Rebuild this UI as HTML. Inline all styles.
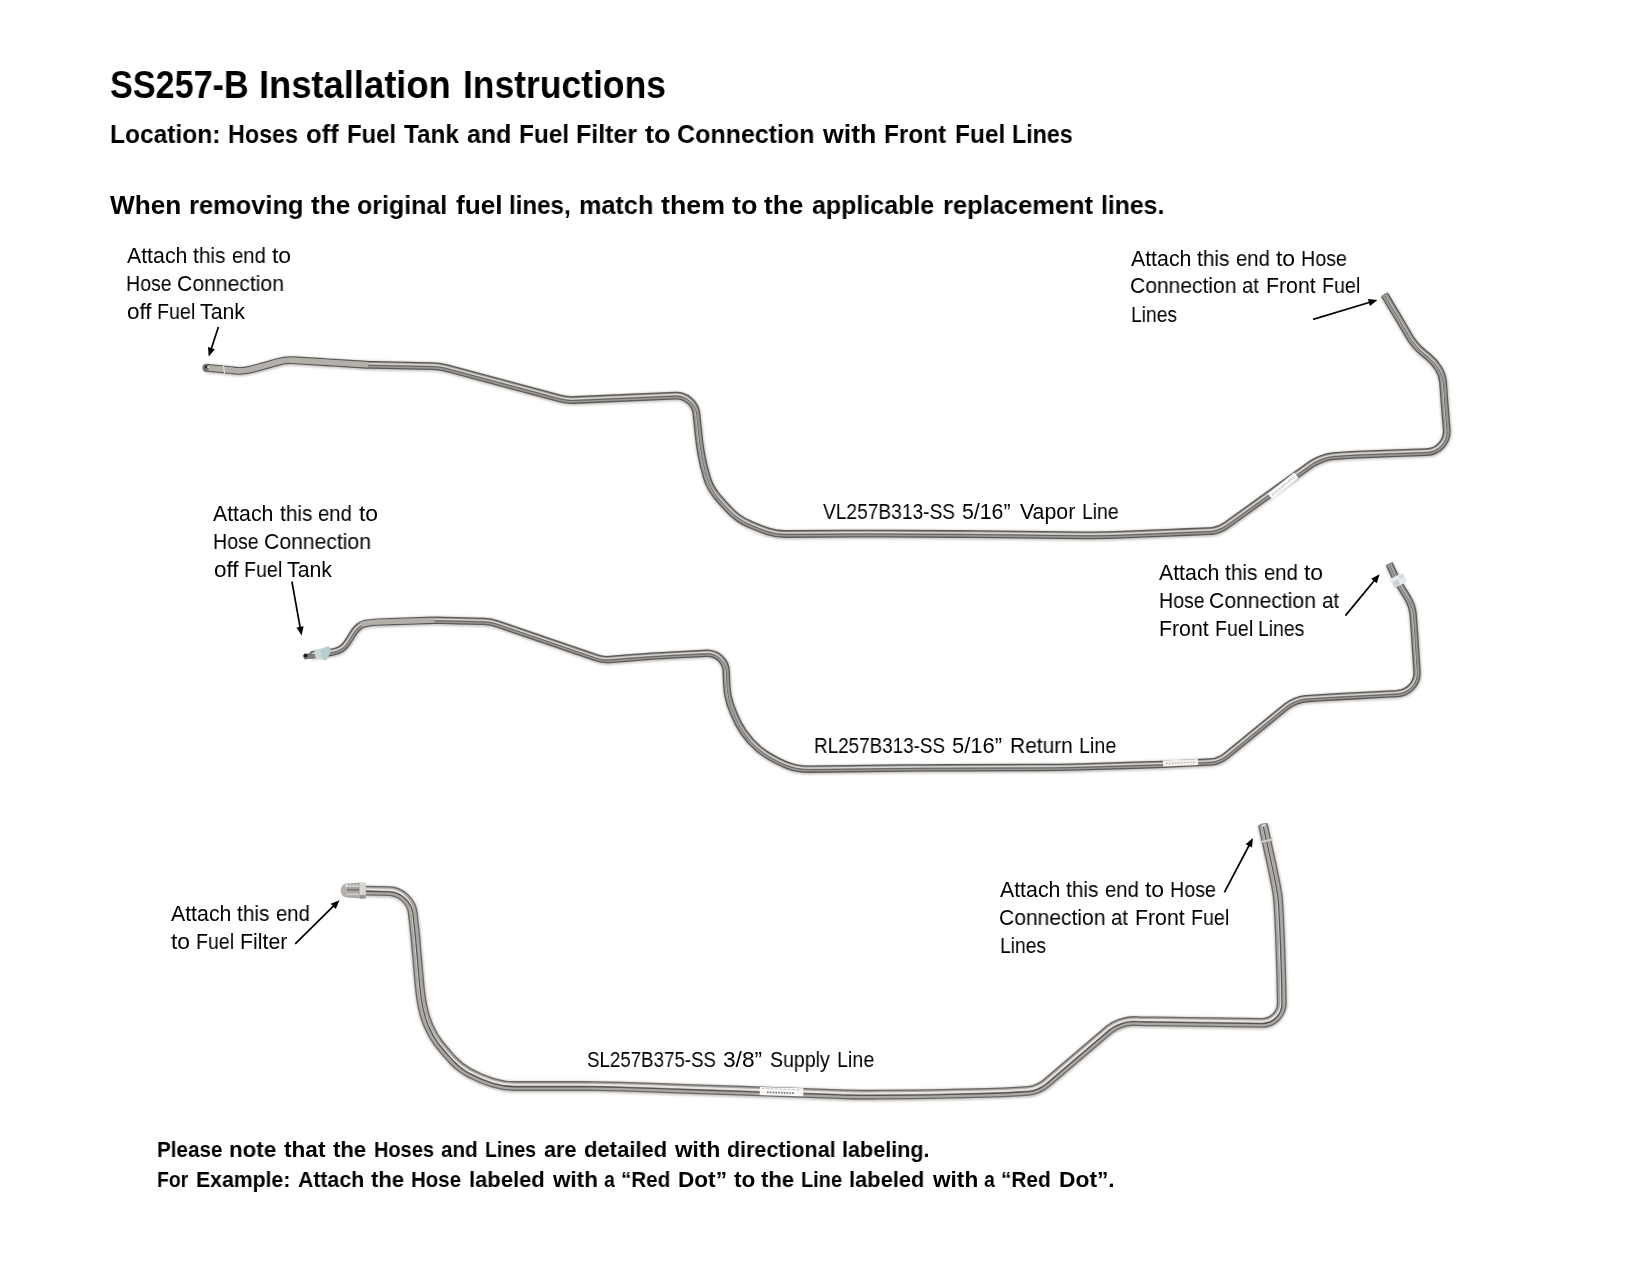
<!DOCTYPE html><html><head><meta charset="utf-8"><title>SS257-B Installation Instructions</title><style>html,body{margin:0;padding:0;background:#fff}
body{width:1650px;height:1275px;position:relative;overflow:hidden;font-family:"Liberation Sans", sans-serif;color:#000}
.t{position:absolute;white-space:nowrap;line-height:1;transform-origin:0 0;margin:0;padding:0;will-change:transform}
.b{font-weight:bold}</style></head><body><svg id="art" width="1650" height="1275" viewBox="0 0 1650 1275" style="position:absolute;left:0;top:0"><defs><filter id="soft" x="-5%" y="-5%" width="110%" height="110%"><feGaussianBlur stdDeviation="0.4"/></filter><filter id="blur" x="-5%" y="-5%" width="110%" height="110%"><feGaussianBlur stdDeviation="0.9"/></filter></defs><g filter="url(#soft)"><path d="M205.2,367.7 L218.0,368.8 C221.3,369.1 226.7,369.6 230.0,370.0 L235.3,370.6 C239.5,371.0 246.4,370.5 250.5,369.5 L250.5,369.5 C254.6,368.5 261.3,366.6 265.4,365.5 L278.8,361.7 C282.5,360.7 288.6,360.0 292.5,360.2 L323.0,362.0 C325.8,362.2 330.2,362.4 333.0,362.6 L363.0,364.5 C365.8,364.7 370.2,364.8 373.0,364.9 L432.5,366.1 C436.4,366.1 442.5,367.0 446.3,368.0 L560.2,398.5 C564.0,399.5 570.1,400.2 574.0,400.0 L675.5,395.6 C686.0,395.2 695.4,403.3 696.4,413.7 L698.6,434.6 C699.1,440.0 700.4,448.9 701.3,454.3 L701.6,455.6 C702.5,461.0 704.6,469.7 706.2,475.0 L707.1,478.1 C708.7,483.4 712.9,491.2 716.4,495.4 L717.1,496.4 C720.6,500.6 726.7,507.3 730.6,511.2 L731.3,511.9 C735.2,515.8 742.5,520.9 747.5,523.1 L751.1,524.8 C755.6,526.8 763.0,529.7 767.6,531.2 L767.6,531.2 C772.2,532.7 780.0,534.0 784.9,534.0 L849.0,533.6 C860.0,533.5 878.0,533.5 889.0,533.6 L958.0,534.0 C969.0,534.1 987.0,534.2 998.0,534.3 L1083.6,535.3 C1094.6,535.4 1112.6,535.1 1123.6,534.6 L1147.0,533.7 C1158.0,533.2 1176.0,532.5 1187.0,532.0 L1209.5,531.1 C1214.5,531.0 1221.8,528.4 1225.8,525.6 L1311.3,464.2 C1316.6,460.3 1326.4,456.8 1333.0,456.2 L1340.8,455.6 C1345.2,455.2 1352.4,454.8 1356.8,454.6 L1377.6,453.8 C1383.1,453.6 1392.1,453.2 1397.6,453.1 L1426.5,452.1 C1438.6,451.6 1447.7,441.4 1446.7,429.4 L1445.1,410.0 C1444.7,404.5 1444.0,395.5 1443.6,390.0 L1443.1,382.6 C1442.8,378.4 1440.8,372.1 1438.5,368.5 L1438.5,368.5 C1436.3,364.9 1431.8,359.8 1428.6,357.1 L1423.1,352.6 C1418.4,348.7 1412.0,341.2 1408.9,335.9 L1408.3,334.8 C1405.6,330.1 1401.0,322.3 1398.2,317.6 L1384.4,294.6" fill="none" stroke="#c4c2c0" stroke-width="9.6" stroke-linejoin="round" transform="translate(0.2,0.7)" filter="url(#blur)"/><path d="M205.2,367.7 L218.0,368.8 C221.3,369.1 226.7,369.6 230.0,370.0 L235.3,370.6 C239.5,371.0 246.4,370.5 250.5,369.5 L250.5,369.5 C254.6,368.5 261.3,366.6 265.4,365.5 L278.8,361.7 C282.5,360.7 288.6,360.0 292.5,360.2 L323.0,362.0 C325.8,362.2 330.2,362.4 333.0,362.6 L363.0,364.5 C365.8,364.7 370.2,364.8 373.0,364.9 L432.5,366.1 C436.4,366.1 442.5,367.0 446.3,368.0 L560.2,398.5 C564.0,399.5 570.1,400.2 574.0,400.0 L675.5,395.6 C686.0,395.2 695.4,403.3 696.4,413.7 L698.6,434.6 C699.1,440.0 700.4,448.9 701.3,454.3 L701.6,455.6 C702.5,461.0 704.6,469.7 706.2,475.0 L707.1,478.1 C708.7,483.4 712.9,491.2 716.4,495.4 L717.1,496.4 C720.6,500.6 726.7,507.3 730.6,511.2 L731.3,511.9 C735.2,515.8 742.5,520.9 747.5,523.1 L751.1,524.8 C755.6,526.8 763.0,529.7 767.6,531.2 L767.6,531.2 C772.2,532.7 780.0,534.0 784.9,534.0 L849.0,533.6 C860.0,533.5 878.0,533.5 889.0,533.6 L958.0,534.0 C969.0,534.1 987.0,534.2 998.0,534.3 L1083.6,535.3 C1094.6,535.4 1112.6,535.1 1123.6,534.6 L1147.0,533.7 C1158.0,533.2 1176.0,532.5 1187.0,532.0 L1209.5,531.1 C1214.5,531.0 1221.8,528.4 1225.8,525.6 L1311.3,464.2 C1316.6,460.3 1326.4,456.8 1333.0,456.2 L1340.8,455.6 C1345.2,455.2 1352.4,454.8 1356.8,454.6 L1377.6,453.8 C1383.1,453.6 1392.1,453.2 1397.6,453.1 L1426.5,452.1 C1438.6,451.6 1447.7,441.4 1446.7,429.4 L1445.1,410.0 C1444.7,404.5 1444.0,395.5 1443.6,390.0 L1443.1,382.6 C1442.8,378.4 1440.8,372.1 1438.5,368.5 L1438.5,368.5 C1436.3,364.9 1431.8,359.8 1428.6,357.1 L1423.1,352.6 C1418.4,348.7 1412.0,341.2 1408.9,335.9 L1408.3,334.8 C1405.6,330.1 1401.0,322.3 1398.2,317.6 L1384.4,294.6" fill="none" stroke="#5d5a57" stroke-width="7.8" stroke-linecap="butt" stroke-linejoin="round"/><path d="M205.2,367.7 L218.0,368.8 C221.3,369.1 226.7,369.6 230.0,370.0 L235.3,370.6 C239.5,371.0 246.4,370.5 250.5,369.5 L250.5,369.5 C254.6,368.5 261.3,366.6 265.4,365.5 L278.8,361.7 C282.5,360.7 288.6,360.0 292.5,360.2 L323.0,362.0 C325.8,362.2 330.2,362.4 333.0,362.6 L363.0,364.5 C365.8,364.7 370.2,364.8 373.0,364.9 L432.5,366.1 C436.4,366.1 442.5,367.0 446.3,368.0 L560.2,398.5 C564.0,399.5 570.1,400.2 574.0,400.0 L675.5,395.6 C686.0,395.2 695.4,403.3 696.4,413.7 L698.6,434.6 C699.1,440.0 700.4,448.9 701.3,454.3 L701.6,455.6 C702.5,461.0 704.6,469.7 706.2,475.0 L707.1,478.1 C708.7,483.4 712.9,491.2 716.4,495.4 L717.1,496.4 C720.6,500.6 726.7,507.3 730.6,511.2 L731.3,511.9 C735.2,515.8 742.5,520.9 747.5,523.1 L751.1,524.8 C755.6,526.8 763.0,529.7 767.6,531.2 L767.6,531.2 C772.2,532.7 780.0,534.0 784.9,534.0 L849.0,533.6 C860.0,533.5 878.0,533.5 889.0,533.6 L958.0,534.0 C969.0,534.1 987.0,534.2 998.0,534.3 L1083.6,535.3 C1094.6,535.4 1112.6,535.1 1123.6,534.6 L1147.0,533.7 C1158.0,533.2 1176.0,532.5 1187.0,532.0 L1209.5,531.1 C1214.5,531.0 1221.8,528.4 1225.8,525.6 L1311.3,464.2 C1316.6,460.3 1326.4,456.8 1333.0,456.2 L1340.8,455.6 C1345.2,455.2 1352.4,454.8 1356.8,454.6 L1377.6,453.8 C1383.1,453.6 1392.1,453.2 1397.6,453.1 L1426.5,452.1 C1438.6,451.6 1447.7,441.4 1446.7,429.4 L1445.1,410.0 C1444.7,404.5 1444.0,395.5 1443.6,390.0 L1443.1,382.6 C1442.8,378.4 1440.8,372.1 1438.5,368.5 L1438.5,368.5 C1436.3,364.9 1431.8,359.8 1428.6,357.1 L1423.1,352.6 C1418.4,348.7 1412.0,341.2 1408.9,335.9 L1408.3,334.8 C1405.6,330.1 1401.0,322.3 1398.2,317.6 L1384.4,294.6" fill="none" stroke="#9b9895" stroke-width="5.20" stroke-linejoin="round"/><path d="M205.2,367.7 L218.0,368.8 C221.3,369.1 226.7,369.6 230.0,370.0 L235.3,370.6 C239.5,371.0 246.4,370.5 250.5,369.5 L250.5,369.5 C254.6,368.5 261.3,366.6 265.4,365.5 L278.8,361.7 C282.5,360.7 288.6,360.0 292.5,360.2 L323.0,362.0 C325.8,362.2 330.2,362.4 333.0,362.6 L363.0,364.5 C365.8,364.7 370.2,364.8 373.0,364.9 L432.5,366.1 C436.4,366.1 442.5,367.0 446.3,368.0 L560.2,398.5 C564.0,399.5 570.1,400.2 574.0,400.0 L675.5,395.6 C686.0,395.2 695.4,403.3 696.4,413.7 L698.6,434.6 C699.1,440.0 700.4,448.9 701.3,454.3 L701.6,455.6 C702.5,461.0 704.6,469.7 706.2,475.0 L707.1,478.1 C708.7,483.4 712.9,491.2 716.4,495.4 L717.1,496.4 C720.6,500.6 726.7,507.3 730.6,511.2 L731.3,511.9 C735.2,515.8 742.5,520.9 747.5,523.1 L751.1,524.8 C755.6,526.8 763.0,529.7 767.6,531.2 L767.6,531.2 C772.2,532.7 780.0,534.0 784.9,534.0 L849.0,533.6 C860.0,533.5 878.0,533.5 889.0,533.6 L958.0,534.0 C969.0,534.1 987.0,534.2 998.0,534.3 L1083.6,535.3 C1094.6,535.4 1112.6,535.1 1123.6,534.6 L1147.0,533.7 C1158.0,533.2 1176.0,532.5 1187.0,532.0 L1209.5,531.1 C1214.5,531.0 1221.8,528.4 1225.8,525.6 L1311.3,464.2 C1316.6,460.3 1326.4,456.8 1333.0,456.2 L1340.8,455.6 C1345.2,455.2 1352.4,454.8 1356.8,454.6 L1377.6,453.8 C1383.1,453.6 1392.1,453.2 1397.6,453.1 L1426.5,452.1 C1438.6,451.6 1447.7,441.4 1446.7,429.4 L1445.1,410.0 C1444.7,404.5 1444.0,395.5 1443.6,390.0 L1443.1,382.6 C1442.8,378.4 1440.8,372.1 1438.5,368.5 L1438.5,368.5 C1436.3,364.9 1431.8,359.8 1428.6,357.1 L1423.1,352.6 C1418.4,348.7 1412.0,341.2 1408.9,335.9 L1408.3,334.8 C1405.6,330.1 1401.0,322.3 1398.2,317.6 L1384.4,294.6" fill="none" stroke="#d6d4d1" stroke-width="1.40" stroke-linejoin="round" transform="translate(-0.3,-1.09)"/><path d="M205.2,367.7 L218.0,368.8 C221.3,369.1 226.7,369.6 230.0,370.0 L235.3,370.6 C239.5,371.0 246.4,370.5 250.5,369.5 L250.5,369.5 C254.6,368.5 261.3,366.6 265.4,365.5 L278.8,361.7 C282.5,360.7 288.6,360.0 292.5,360.2 L323.0,362.0 C325.8,362.2 330.2,362.4 333.0,362.6 L363.0,364.5 C365.8,364.7 370.2,364.8 373.0,364.9 L432.5,366.1 C436.4,366.1 442.5,367.0 446.3,368.0 L560.2,398.5 C564.0,399.5 570.1,400.2 574.0,400.0 L675.5,395.6 C686.0,395.2 695.4,403.3 696.4,413.7 L698.6,434.6 C699.1,440.0 700.4,448.9 701.3,454.3 L701.6,455.6 C702.5,461.0 704.6,469.7 706.2,475.0 L707.1,478.1 C708.7,483.4 712.9,491.2 716.4,495.4 L717.1,496.4 C720.6,500.6 726.7,507.3 730.6,511.2 L731.3,511.9 C735.2,515.8 742.5,520.9 747.5,523.1 L751.1,524.8 C755.6,526.8 763.0,529.7 767.6,531.2 L767.6,531.2 C772.2,532.7 780.0,534.0 784.9,534.0 L849.0,533.6 C860.0,533.5 878.0,533.5 889.0,533.6 L958.0,534.0 C969.0,534.1 987.0,534.2 998.0,534.3 L1083.6,535.3 C1094.6,535.4 1112.6,535.1 1123.6,534.6 L1147.0,533.7 C1158.0,533.2 1176.0,532.5 1187.0,532.0 L1209.5,531.1 C1214.5,531.0 1221.8,528.4 1225.8,525.6 L1311.3,464.2 C1316.6,460.3 1326.4,456.8 1333.0,456.2 L1340.8,455.6 C1345.2,455.2 1352.4,454.8 1356.8,454.6 L1377.6,453.8 C1383.1,453.6 1392.1,453.2 1397.6,453.1 L1426.5,452.1 C1438.6,451.6 1447.7,441.4 1446.7,429.4 L1445.1,410.0 C1444.7,404.5 1444.0,395.5 1443.6,390.0 L1443.1,382.6 C1442.8,378.4 1440.8,372.1 1438.5,368.5 L1438.5,368.5 C1436.3,364.9 1431.8,359.8 1428.6,357.1 L1423.1,352.6 C1418.4,348.7 1412.0,341.2 1408.9,335.9 L1408.3,334.8 C1405.6,330.1 1401.0,322.3 1398.2,317.6 L1384.4,294.6" fill="none" stroke="#605d5b" stroke-width="0.94" stroke-linejoin="round" transform="translate(0.2,0.55)"/><path d="M311.0,654.8 L330.0,652.5 C332.2,652.2 335.7,651.4 337.7,650.6 L338.1,650.5 C340.0,649.8 342.6,648.0 344.0,646.6 L344.0,646.6 C345.4,645.2 347.4,642.6 348.4,640.9 L353.1,633.4 C354.2,631.5 356.5,628.7 358.1,627.2 L358.1,627.2 C359.7,625.7 362.8,624.1 365.0,623.6 L366.5,623.3 C369.5,622.8 374.5,622.2 377.6,622.1 L426.5,620.5 C430.9,620.3 438.1,620.3 442.5,620.4 L484.0,621.4 C487.9,621.5 494.0,622.6 497.6,623.9 L596.4,657.8 C600.0,659.1 606.1,659.8 610.0,659.5 L634.6,657.5 C645.5,656.6 663.5,655.5 674.5,654.9 L706.6,653.3 C717.1,652.8 725.9,660.9 726.2,671.4 L726.7,684.5 C726.9,690.0 728.4,698.8 730.1,704.0 L730.1,704.0 C731.9,709.2 735.3,717.5 737.8,722.4 L738.0,723.0 C740.7,728.1 746.0,735.9 749.9,740.2 L751.6,742.1 C755.4,746.3 762.4,752.2 767.2,755.2 L767.2,755.2 C772.0,758.2 780.2,762.4 785.4,764.6 L786.5,765.0 C792.3,767.4 802.1,769.2 808.4,769.2 L905.0,768.0 C916.0,767.9 934.0,767.8 945.0,767.8 L1040.0,767.5 C1051.0,767.5 1069.0,767.2 1080.0,766.9 L1143.0,765.0 C1154.0,764.7 1172.0,764.0 1183.0,763.4 L1210.0,762.0 C1215.0,761.8 1222.1,759.0 1226.0,755.9 L1286.5,706.4 C1291.2,702.5 1299.9,699.1 1306.0,698.7 L1318.5,697.9 C1329.2,697.2 1346.8,696.2 1357.5,695.7 L1357.5,695.7 C1368.2,695.1 1385.8,694.2 1396.5,693.6 L1397.7,693.5 C1409.0,692.8 1417.7,683.0 1417.0,671.7 L1415.6,650.0 C1415.3,644.5 1414.7,635.5 1414.3,630.0 L1413.1,614.4 C1412.8,610.3 1411.0,604.1 1409.0,600.5 L1408.7,599.9 C1407.0,596.6 1403.8,591.4 1401.7,588.2 L1401.7,588.2 C1399.6,585.1 1396.6,579.8 1395.0,576.4 L1389.3,564.0" fill="none" stroke="#c4c2c0" stroke-width="9.200000000000001" stroke-linejoin="round" transform="translate(0.2,0.7)" filter="url(#blur)"/><path d="M311.0,654.8 L330.0,652.5 C332.2,652.2 335.7,651.4 337.7,650.6 L338.1,650.5 C340.0,649.8 342.6,648.0 344.0,646.6 L344.0,646.6 C345.4,645.2 347.4,642.6 348.4,640.9 L353.1,633.4 C354.2,631.5 356.5,628.7 358.1,627.2 L358.1,627.2 C359.7,625.7 362.8,624.1 365.0,623.6 L366.5,623.3 C369.5,622.8 374.5,622.2 377.6,622.1 L426.5,620.5 C430.9,620.3 438.1,620.3 442.5,620.4 L484.0,621.4 C487.9,621.5 494.0,622.6 497.6,623.9 L596.4,657.8 C600.0,659.1 606.1,659.8 610.0,659.5 L634.6,657.5 C645.5,656.6 663.5,655.5 674.5,654.9 L706.6,653.3 C717.1,652.8 725.9,660.9 726.2,671.4 L726.7,684.5 C726.9,690.0 728.4,698.8 730.1,704.0 L730.1,704.0 C731.9,709.2 735.3,717.5 737.8,722.4 L738.0,723.0 C740.7,728.1 746.0,735.9 749.9,740.2 L751.6,742.1 C755.4,746.3 762.4,752.2 767.2,755.2 L767.2,755.2 C772.0,758.2 780.2,762.4 785.4,764.6 L786.5,765.0 C792.3,767.4 802.1,769.2 808.4,769.2 L905.0,768.0 C916.0,767.9 934.0,767.8 945.0,767.8 L1040.0,767.5 C1051.0,767.5 1069.0,767.2 1080.0,766.9 L1143.0,765.0 C1154.0,764.7 1172.0,764.0 1183.0,763.4 L1210.0,762.0 C1215.0,761.8 1222.1,759.0 1226.0,755.9 L1286.5,706.4 C1291.2,702.5 1299.9,699.1 1306.0,698.7 L1318.5,697.9 C1329.2,697.2 1346.8,696.2 1357.5,695.7 L1357.5,695.7 C1368.2,695.1 1385.8,694.2 1396.5,693.6 L1397.7,693.5 C1409.0,692.8 1417.7,683.0 1417.0,671.7 L1415.6,650.0 C1415.3,644.5 1414.7,635.5 1414.3,630.0 L1413.1,614.4 C1412.8,610.3 1411.0,604.1 1409.0,600.5 L1408.7,599.9 C1407.0,596.6 1403.8,591.4 1401.7,588.2 L1401.7,588.2 C1399.6,585.1 1396.6,579.8 1395.0,576.4 L1389.3,564.0" fill="none" stroke="#5d5a57" stroke-width="7.4" stroke-linecap="butt" stroke-linejoin="round"/><path d="M311.0,654.8 L330.0,652.5 C332.2,652.2 335.7,651.4 337.7,650.6 L338.1,650.5 C340.0,649.8 342.6,648.0 344.0,646.6 L344.0,646.6 C345.4,645.2 347.4,642.6 348.4,640.9 L353.1,633.4 C354.2,631.5 356.5,628.7 358.1,627.2 L358.1,627.2 C359.7,625.7 362.8,624.1 365.0,623.6 L366.5,623.3 C369.5,622.8 374.5,622.2 377.6,622.1 L426.5,620.5 C430.9,620.3 438.1,620.3 442.5,620.4 L484.0,621.4 C487.9,621.5 494.0,622.6 497.6,623.9 L596.4,657.8 C600.0,659.1 606.1,659.8 610.0,659.5 L634.6,657.5 C645.5,656.6 663.5,655.5 674.5,654.9 L706.6,653.3 C717.1,652.8 725.9,660.9 726.2,671.4 L726.7,684.5 C726.9,690.0 728.4,698.8 730.1,704.0 L730.1,704.0 C731.9,709.2 735.3,717.5 737.8,722.4 L738.0,723.0 C740.7,728.1 746.0,735.9 749.9,740.2 L751.6,742.1 C755.4,746.3 762.4,752.2 767.2,755.2 L767.2,755.2 C772.0,758.2 780.2,762.4 785.4,764.6 L786.5,765.0 C792.3,767.4 802.1,769.2 808.4,769.2 L905.0,768.0 C916.0,767.9 934.0,767.8 945.0,767.8 L1040.0,767.5 C1051.0,767.5 1069.0,767.2 1080.0,766.9 L1143.0,765.0 C1154.0,764.7 1172.0,764.0 1183.0,763.4 L1210.0,762.0 C1215.0,761.8 1222.1,759.0 1226.0,755.9 L1286.5,706.4 C1291.2,702.5 1299.9,699.1 1306.0,698.7 L1318.5,697.9 C1329.2,697.2 1346.8,696.2 1357.5,695.7 L1357.5,695.7 C1368.2,695.1 1385.8,694.2 1396.5,693.6 L1397.7,693.5 C1409.0,692.8 1417.7,683.0 1417.0,671.7 L1415.6,650.0 C1415.3,644.5 1414.7,635.5 1414.3,630.0 L1413.1,614.4 C1412.8,610.3 1411.0,604.1 1409.0,600.5 L1408.7,599.9 C1407.0,596.6 1403.8,591.4 1401.7,588.2 L1401.7,588.2 C1399.6,585.1 1396.6,579.8 1395.0,576.4 L1389.3,564.0" fill="none" stroke="#9b9895" stroke-width="4.80" stroke-linejoin="round"/><path d="M311.0,654.8 L330.0,652.5 C332.2,652.2 335.7,651.4 337.7,650.6 L338.1,650.5 C340.0,649.8 342.6,648.0 344.0,646.6 L344.0,646.6 C345.4,645.2 347.4,642.6 348.4,640.9 L353.1,633.4 C354.2,631.5 356.5,628.7 358.1,627.2 L358.1,627.2 C359.7,625.7 362.8,624.1 365.0,623.6 L366.5,623.3 C369.5,622.8 374.5,622.2 377.6,622.1 L426.5,620.5 C430.9,620.3 438.1,620.3 442.5,620.4 L484.0,621.4 C487.9,621.5 494.0,622.6 497.6,623.9 L596.4,657.8 C600.0,659.1 606.1,659.8 610.0,659.5 L634.6,657.5 C645.5,656.6 663.5,655.5 674.5,654.9 L706.6,653.3 C717.1,652.8 725.9,660.9 726.2,671.4 L726.7,684.5 C726.9,690.0 728.4,698.8 730.1,704.0 L730.1,704.0 C731.9,709.2 735.3,717.5 737.8,722.4 L738.0,723.0 C740.7,728.1 746.0,735.9 749.9,740.2 L751.6,742.1 C755.4,746.3 762.4,752.2 767.2,755.2 L767.2,755.2 C772.0,758.2 780.2,762.4 785.4,764.6 L786.5,765.0 C792.3,767.4 802.1,769.2 808.4,769.2 L905.0,768.0 C916.0,767.9 934.0,767.8 945.0,767.8 L1040.0,767.5 C1051.0,767.5 1069.0,767.2 1080.0,766.9 L1143.0,765.0 C1154.0,764.7 1172.0,764.0 1183.0,763.4 L1210.0,762.0 C1215.0,761.8 1222.1,759.0 1226.0,755.9 L1286.5,706.4 C1291.2,702.5 1299.9,699.1 1306.0,698.7 L1318.5,697.9 C1329.2,697.2 1346.8,696.2 1357.5,695.7 L1357.5,695.7 C1368.2,695.1 1385.8,694.2 1396.5,693.6 L1397.7,693.5 C1409.0,692.8 1417.7,683.0 1417.0,671.7 L1415.6,650.0 C1415.3,644.5 1414.7,635.5 1414.3,630.0 L1413.1,614.4 C1412.8,610.3 1411.0,604.1 1409.0,600.5 L1408.7,599.9 C1407.0,596.6 1403.8,591.4 1401.7,588.2 L1401.7,588.2 C1399.6,585.1 1396.6,579.8 1395.0,576.4 L1389.3,564.0" fill="none" stroke="#d6d4d1" stroke-width="1.33" stroke-linejoin="round" transform="translate(-0.3,-1.04)"/><path d="M311.0,654.8 L330.0,652.5 C332.2,652.2 335.7,651.4 337.7,650.6 L338.1,650.5 C340.0,649.8 342.6,648.0 344.0,646.6 L344.0,646.6 C345.4,645.2 347.4,642.6 348.4,640.9 L353.1,633.4 C354.2,631.5 356.5,628.7 358.1,627.2 L358.1,627.2 C359.7,625.7 362.8,624.1 365.0,623.6 L366.5,623.3 C369.5,622.8 374.5,622.2 377.6,622.1 L426.5,620.5 C430.9,620.3 438.1,620.3 442.5,620.4 L484.0,621.4 C487.9,621.5 494.0,622.6 497.6,623.9 L596.4,657.8 C600.0,659.1 606.1,659.8 610.0,659.5 L634.6,657.5 C645.5,656.6 663.5,655.5 674.5,654.9 L706.6,653.3 C717.1,652.8 725.9,660.9 726.2,671.4 L726.7,684.5 C726.9,690.0 728.4,698.8 730.1,704.0 L730.1,704.0 C731.9,709.2 735.3,717.5 737.8,722.4 L738.0,723.0 C740.7,728.1 746.0,735.9 749.9,740.2 L751.6,742.1 C755.4,746.3 762.4,752.2 767.2,755.2 L767.2,755.2 C772.0,758.2 780.2,762.4 785.4,764.6 L786.5,765.0 C792.3,767.4 802.1,769.2 808.4,769.2 L905.0,768.0 C916.0,767.9 934.0,767.8 945.0,767.8 L1040.0,767.5 C1051.0,767.5 1069.0,767.2 1080.0,766.9 L1143.0,765.0 C1154.0,764.7 1172.0,764.0 1183.0,763.4 L1210.0,762.0 C1215.0,761.8 1222.1,759.0 1226.0,755.9 L1286.5,706.4 C1291.2,702.5 1299.9,699.1 1306.0,698.7 L1318.5,697.9 C1329.2,697.2 1346.8,696.2 1357.5,695.7 L1357.5,695.7 C1368.2,695.1 1385.8,694.2 1396.5,693.6 L1397.7,693.5 C1409.0,692.8 1417.7,683.0 1417.0,671.7 L1415.6,650.0 C1415.3,644.5 1414.7,635.5 1414.3,630.0 L1413.1,614.4 C1412.8,610.3 1411.0,604.1 1409.0,600.5 L1408.7,599.9 C1407.0,596.6 1403.8,591.4 1401.7,588.2 L1401.7,588.2 C1399.6,585.1 1396.6,579.8 1395.0,576.4 L1389.3,564.0" fill="none" stroke="#605d5b" stroke-width="0.89" stroke-linejoin="round" transform="translate(0.2,0.52)"/><path d="M365.0,890.6 L389.3,891.2 C400.9,891.5 411.4,901.2 412.7,912.7 L413.9,923.4 C414.6,929.9 415.7,940.7 416.2,947.3 L417.4,960.9 C417.9,967.5 418.9,978.3 419.5,984.8 L419.8,988.0 C420.3,993.3 421.6,1001.9 422.6,1007.0 L422.6,1007.0 C423.6,1012.2 426.2,1020.5 428.3,1025.4 L428.9,1026.7 C430.9,1031.4 435.1,1038.7 438.2,1042.8 L438.2,1042.8 C441.4,1046.9 446.8,1053.4 450.3,1057.2 L453.4,1060.6 C457.1,1064.6 464.2,1070.0 469.0,1072.6 L472.8,1074.5 C477.6,1077.1 485.9,1080.5 491.2,1082.1 L494.4,1083.1 C499.7,1084.7 508.5,1086.0 514.0,1086.0 L580.0,1086.0 C591.0,1086.0 609.0,1086.3 620.0,1086.7 L652.0,1087.7 C663.0,1088.1 681.0,1088.7 692.0,1089.1 L740.0,1090.7 C751.0,1091.1 769.0,1091.7 780.0,1092.1 L839.0,1094.2 C850.0,1094.6 868.0,1094.8 879.0,1094.7 L912.0,1094.4 C923.0,1094.3 941.0,1094.0 952.0,1093.7 L987.0,1092.8 C996.3,1092.6 1011.6,1091.9 1021.0,1091.3 L1028.0,1090.9 C1033.5,1090.6 1041.4,1087.4 1045.6,1083.8 L1109.0,1029.7 C1114.8,1024.8 1125.7,1020.9 1133.2,1021.0 L1139.0,1021.2 C1143.4,1021.2 1150.6,1021.4 1155.0,1021.4 L1190.0,1021.9 C1195.5,1022.0 1204.5,1022.2 1210.0,1022.2 L1261.3,1022.9 C1272.9,1023.1 1282.1,1013.8 1281.8,1002.2 L1281.2,974.0 C1281.0,966.3 1280.6,953.7 1280.3,946.0 L1279.8,932.7 C1279.5,925.7 1279.0,914.3 1278.5,907.4 L1278.4,904.3 C1278.1,899.0 1277.0,890.5 1275.9,885.3 L1275.9,885.3 C1274.9,880.1 1273.2,871.7 1272.1,866.5 L1268.3,849.2 C1267.3,844.7 1265.7,837.3 1264.7,832.8 L1262.9,824.6" fill="none" stroke="#c4c2c0" stroke-width="11.600000000000001" stroke-linejoin="round" transform="translate(0.2,0.7)" filter="url(#blur)"/><path d="M365.0,890.6 L389.3,891.2 C400.9,891.5 411.4,901.2 412.7,912.7 L413.9,923.4 C414.6,929.9 415.7,940.7 416.2,947.3 L417.4,960.9 C417.9,967.5 418.9,978.3 419.5,984.8 L419.8,988.0 C420.3,993.3 421.6,1001.9 422.6,1007.0 L422.6,1007.0 C423.6,1012.2 426.2,1020.5 428.3,1025.4 L428.9,1026.7 C430.9,1031.4 435.1,1038.7 438.2,1042.8 L438.2,1042.8 C441.4,1046.9 446.8,1053.4 450.3,1057.2 L453.4,1060.6 C457.1,1064.6 464.2,1070.0 469.0,1072.6 L472.8,1074.5 C477.6,1077.1 485.9,1080.5 491.2,1082.1 L494.4,1083.1 C499.7,1084.7 508.5,1086.0 514.0,1086.0 L580.0,1086.0 C591.0,1086.0 609.0,1086.3 620.0,1086.7 L652.0,1087.7 C663.0,1088.1 681.0,1088.7 692.0,1089.1 L740.0,1090.7 C751.0,1091.1 769.0,1091.7 780.0,1092.1 L839.0,1094.2 C850.0,1094.6 868.0,1094.8 879.0,1094.7 L912.0,1094.4 C923.0,1094.3 941.0,1094.0 952.0,1093.7 L987.0,1092.8 C996.3,1092.6 1011.6,1091.9 1021.0,1091.3 L1028.0,1090.9 C1033.5,1090.6 1041.4,1087.4 1045.6,1083.8 L1109.0,1029.7 C1114.8,1024.8 1125.7,1020.9 1133.2,1021.0 L1139.0,1021.2 C1143.4,1021.2 1150.6,1021.4 1155.0,1021.4 L1190.0,1021.9 C1195.5,1022.0 1204.5,1022.2 1210.0,1022.2 L1261.3,1022.9 C1272.9,1023.1 1282.1,1013.8 1281.8,1002.2 L1281.2,974.0 C1281.0,966.3 1280.6,953.7 1280.3,946.0 L1279.8,932.7 C1279.5,925.7 1279.0,914.3 1278.5,907.4 L1278.4,904.3 C1278.1,899.0 1277.0,890.5 1275.9,885.3 L1275.9,885.3 C1274.9,880.1 1273.2,871.7 1272.1,866.5 L1268.3,849.2 C1267.3,844.7 1265.7,837.3 1264.7,832.8 L1262.9,824.6" fill="none" stroke="#6c6865" stroke-width="9.8" stroke-linecap="butt" stroke-linejoin="round"/><path d="M365.0,890.6 L389.3,891.2 C400.9,891.5 411.4,901.2 412.7,912.7 L413.9,923.4 C414.6,929.9 415.7,940.7 416.2,947.3 L417.4,960.9 C417.9,967.5 418.9,978.3 419.5,984.8 L419.8,988.0 C420.3,993.3 421.6,1001.9 422.6,1007.0 L422.6,1007.0 C423.6,1012.2 426.2,1020.5 428.3,1025.4 L428.9,1026.7 C430.9,1031.4 435.1,1038.7 438.2,1042.8 L438.2,1042.8 C441.4,1046.9 446.8,1053.4 450.3,1057.2 L453.4,1060.6 C457.1,1064.6 464.2,1070.0 469.0,1072.6 L472.8,1074.5 C477.6,1077.1 485.9,1080.5 491.2,1082.1 L494.4,1083.1 C499.7,1084.7 508.5,1086.0 514.0,1086.0 L580.0,1086.0 C591.0,1086.0 609.0,1086.3 620.0,1086.7 L652.0,1087.7 C663.0,1088.1 681.0,1088.7 692.0,1089.1 L740.0,1090.7 C751.0,1091.1 769.0,1091.7 780.0,1092.1 L839.0,1094.2 C850.0,1094.6 868.0,1094.8 879.0,1094.7 L912.0,1094.4 C923.0,1094.3 941.0,1094.0 952.0,1093.7 L987.0,1092.8 C996.3,1092.6 1011.6,1091.9 1021.0,1091.3 L1028.0,1090.9 C1033.5,1090.6 1041.4,1087.4 1045.6,1083.8 L1109.0,1029.7 C1114.8,1024.8 1125.7,1020.9 1133.2,1021.0 L1139.0,1021.2 C1143.4,1021.2 1150.6,1021.4 1155.0,1021.4 L1190.0,1021.9 C1195.5,1022.0 1204.5,1022.2 1210.0,1022.2 L1261.3,1022.9 C1272.9,1023.1 1282.1,1013.8 1281.8,1002.2 L1281.2,974.0 C1281.0,966.3 1280.6,953.7 1280.3,946.0 L1279.8,932.7 C1279.5,925.7 1279.0,914.3 1278.5,907.4 L1278.4,904.3 C1278.1,899.0 1277.0,890.5 1275.9,885.3 L1275.9,885.3 C1274.9,880.1 1273.2,871.7 1272.1,866.5 L1268.3,849.2 C1267.3,844.7 1265.7,837.3 1264.7,832.8 L1262.9,824.6" fill="none" stroke="#aba7a3" stroke-width="7.20" stroke-linejoin="round"/><path d="M365.0,890.6 L389.3,891.2 C400.9,891.5 411.4,901.2 412.7,912.7 L413.9,923.4 C414.6,929.9 415.7,940.7 416.2,947.3 L417.4,960.9 C417.9,967.5 418.9,978.3 419.5,984.8 L419.8,988.0 C420.3,993.3 421.6,1001.9 422.6,1007.0 L422.6,1007.0 C423.6,1012.2 426.2,1020.5 428.3,1025.4 L428.9,1026.7 C430.9,1031.4 435.1,1038.7 438.2,1042.8 L438.2,1042.8 C441.4,1046.9 446.8,1053.4 450.3,1057.2 L453.4,1060.6 C457.1,1064.6 464.2,1070.0 469.0,1072.6 L472.8,1074.5 C477.6,1077.1 485.9,1080.5 491.2,1082.1 L494.4,1083.1 C499.7,1084.7 508.5,1086.0 514.0,1086.0 L580.0,1086.0 C591.0,1086.0 609.0,1086.3 620.0,1086.7 L652.0,1087.7 C663.0,1088.1 681.0,1088.7 692.0,1089.1 L740.0,1090.7 C751.0,1091.1 769.0,1091.7 780.0,1092.1 L839.0,1094.2 C850.0,1094.6 868.0,1094.8 879.0,1094.7 L912.0,1094.4 C923.0,1094.3 941.0,1094.0 952.0,1093.7 L987.0,1092.8 C996.3,1092.6 1011.6,1091.9 1021.0,1091.3 L1028.0,1090.9 C1033.5,1090.6 1041.4,1087.4 1045.6,1083.8 L1109.0,1029.7 C1114.8,1024.8 1125.7,1020.9 1133.2,1021.0 L1139.0,1021.2 C1143.4,1021.2 1150.6,1021.4 1155.0,1021.4 L1190.0,1021.9 C1195.5,1022.0 1204.5,1022.2 1210.0,1022.2 L1261.3,1022.9 C1272.9,1023.1 1282.1,1013.8 1281.8,1002.2 L1281.2,974.0 C1281.0,966.3 1280.6,953.7 1280.3,946.0 L1279.8,932.7 C1279.5,925.7 1279.0,914.3 1278.5,907.4 L1278.4,904.3 C1278.1,899.0 1277.0,890.5 1275.9,885.3 L1275.9,885.3 C1274.9,880.1 1273.2,871.7 1272.1,866.5 L1268.3,849.2 C1267.3,844.7 1265.7,837.3 1264.7,832.8 L1262.9,824.6" fill="none" stroke="#e8e4e1" stroke-width="1.96" stroke-linejoin="round" transform="translate(-0.3,-1.37)"/><path d="M365.0,890.6 L389.3,891.2 C400.9,891.5 411.4,901.2 412.7,912.7 L413.9,923.4 C414.6,929.9 415.7,940.7 416.2,947.3 L417.4,960.9 C417.9,967.5 418.9,978.3 419.5,984.8 L419.8,988.0 C420.3,993.3 421.6,1001.9 422.6,1007.0 L422.6,1007.0 C423.6,1012.2 426.2,1020.5 428.3,1025.4 L428.9,1026.7 C430.9,1031.4 435.1,1038.7 438.2,1042.8 L438.2,1042.8 C441.4,1046.9 446.8,1053.4 450.3,1057.2 L453.4,1060.6 C457.1,1064.6 464.2,1070.0 469.0,1072.6 L472.8,1074.5 C477.6,1077.1 485.9,1080.5 491.2,1082.1 L494.4,1083.1 C499.7,1084.7 508.5,1086.0 514.0,1086.0 L580.0,1086.0 C591.0,1086.0 609.0,1086.3 620.0,1086.7 L652.0,1087.7 C663.0,1088.1 681.0,1088.7 692.0,1089.1 L740.0,1090.7 C751.0,1091.1 769.0,1091.7 780.0,1092.1 L839.0,1094.2 C850.0,1094.6 868.0,1094.8 879.0,1094.7 L912.0,1094.4 C923.0,1094.3 941.0,1094.0 952.0,1093.7 L987.0,1092.8 C996.3,1092.6 1011.6,1091.9 1021.0,1091.3 L1028.0,1090.9 C1033.5,1090.6 1041.4,1087.4 1045.6,1083.8 L1109.0,1029.7 C1114.8,1024.8 1125.7,1020.9 1133.2,1021.0 L1139.0,1021.2 C1143.4,1021.2 1150.6,1021.4 1155.0,1021.4 L1190.0,1021.9 C1195.5,1022.0 1204.5,1022.2 1210.0,1022.2 L1261.3,1022.9 C1272.9,1023.1 1282.1,1013.8 1281.8,1002.2 L1281.2,974.0 C1281.0,966.3 1280.6,953.7 1280.3,946.0 L1279.8,932.7 C1279.5,925.7 1279.0,914.3 1278.5,907.4 L1278.4,904.3 C1278.1,899.0 1277.0,890.5 1275.9,885.3 L1275.9,885.3 C1274.9,880.1 1273.2,871.7 1272.1,866.5 L1268.3,849.2 C1267.3,844.7 1265.7,837.3 1264.7,832.8 L1262.9,824.6" fill="none" stroke="#595653" stroke-width="1.37" stroke-linejoin="round" transform="translate(0.2,0.69)"/><path d="M205.2,367.7 L218.0,368.8 C221.3,369.1 226.7,369.6 230.0,370.0 L235.3,370.6 C239.5,371.0 246.4,370.5 250.5,369.5 L250.5,369.5 C254.6,368.5 261.3,366.6 265.4,365.5 L278.8,361.7 C282.5,360.7 288.6,360.0 292.5,360.2 L323.0,362.0 C325.8,362.2 330.2,362.4 333.0,362.6 L368.0,364.8" fill="none" stroke="#b3afa9" stroke-width="5.4" stroke-linejoin="round"/><path d="M361.0,624.4 L366.5,623.3 C369.5,622.8 374.5,622.2 377.6,622.1 L434.5,620.2" fill="none" stroke="#b3afa9" stroke-width="5.0" stroke-linejoin="round"/><ellipse cx="205.8" cy="367.8" rx="3.4" ry="3.9" fill="#76726f"/><circle cx="206.2" cy="367.0" r="1.5" fill="#262423"/><circle cx="208.2" cy="367.3" r="1.1" fill="#e8e6e3"/><line x1="223.5" y1="365.4" x2="224.6" y2="373.6" stroke="#e4e2de" stroke-width="1.2"/><line x1="1381.4" y1="297" x2="1388" y2="293" stroke="#8d8985" stroke-width="1.6"/><line x1="1270" y1="496.6" x2="1296.4" y2="475.2" stroke="#f7f7f7" stroke-width="7"/><line x1="1272" y1="495" x2="1294.4" y2="476.8" stroke="#b9b7b5" stroke-width="1.2" stroke-dasharray="1.6 1.4"/><path d="M302.8,655.4 L312,651.8 L313.5,658.6 L304.4,659.6 Z" fill="#7d7a77"/><circle cx="305.6" cy="655.6" r="2" fill="#1f1e1d"/><polygon points="314.4,651 328.6,646 331.2,650.8 326.2,660.4 315.6,657.6" fill="#b7cdd1"/><polygon points="314.4,651 321,648.6 322,659.2 315.6,657.6" fill="#c9d6d8"/><g transform="translate(1398.6,580.4) rotate(-24.8)"><rect x="-7.4" y="-5" width="14.8" height="10" rx="1.2" fill="#e6eaeb"/><rect x="-6.2" y="-1.2" width="6" height="5.2" fill="#c3d1d4"/><rect x="1.5" y="-4" width="4.6" height="3" fill="#d3dcde"/></g><line x1="1385.8" y1="566" x2="1393" y2="562.4" stroke="#8d8985" stroke-width="1.4"/><line x1="1163" y1="763.5" x2="1198" y2="762" stroke="#f1f0ee" stroke-width="6"/><line x1="1166" y1="763.4" x2="1195" y2="762.2" stroke="#b9b7b5" stroke-width="1.2" stroke-dasharray="1.6 1.4"/><path d="M366,883.4 L360.4,882.6 L346,883.4 Q340.6,885 340.6,890.4 Q340.6,895.8 346,897.4 L360.4,898.4 L366,897.6 Z" fill="#b4b0ac"/><rect x="345.5" y="884.6" width="14" height="2.4" fill="#e4e2de"/><rect x="347" y="888.8" width="12" height="2" fill="#7d7975"/><path d="M349,883.6V897.4M352,883.4V897.8M355,883.2V898M358,883V898.2" stroke="#8e8a86" stroke-width="0.7" fill="none"/><rect x="347" y="893.4" width="12" height="1.8" fill="#cfccc8"/><rect x="360" y="882.4" width="5.6" height="16.2" rx="1" fill="#d9d7d3"/><rect x="360" y="895" width="5.6" height="3.6" fill="#96928e"/><line x1="759.8" y1="1090.9" x2="803.3" y2="1092.3" stroke="#f9f9fa" stroke-width="8"/><line x1="767" y1="1092.3" x2="795" y2="1093.2" stroke="#77757a" stroke-width="1.7" stroke-dasharray="1.7 1.1"/><line x1="762" y1="1088.4" x2="801" y2="1089.7" stroke="#c9c8cc" stroke-width="1" stroke-dasharray="3 1.3"/><line x1="1261.6" y1="841.8" x2="1272.2" y2="839.6" stroke="#cfccc8" stroke-width="2"/><ellipse cx="1263" cy="825" rx="4.8" ry="1.6" transform="rotate(-12 1263 825)" fill="#8f8b88"/><ellipse cx="1263.6" cy="825.4" rx="2.4" ry="0.9" transform="rotate(-12 1263.6 825.4)" fill="#e9e7e4"/></g><line x1="218.4" y1="327.1" x2="211.2" y2="349.0" stroke="#000" stroke-width="1.7"/><polygon points="208.7,356.4 208.0,346.9 214.9,349.2" fill="#000"/><line x1="1313.1" y1="319.4" x2="1369.9" y2="302.3" stroke="#000" stroke-width="1.7"/><polygon points="1377.4,300.0 1370.0,306.0 1367.9,299.1" fill="#000"/><line x1="291.9" y1="581.5" x2="300.2" y2="627.8" stroke="#000" stroke-width="1.7"/><polygon points="301.6,635.5 296.5,627.5 303.6,626.2" fill="#000"/><line x1="1345.4" y1="615.6" x2="1374.6" y2="580.2" stroke="#000" stroke-width="1.7"/><polygon points="1379.6,574.2 1376.8,583.3 1371.2,578.7" fill="#000"/><line x1="295.2" y1="943.9" x2="333.9" y2="905.7" stroke="#000" stroke-width="1.7"/><polygon points="339.5,900.2 335.8,908.9 330.7,903.8" fill="#000"/><line x1="1224.4" y1="892.4" x2="1249.3" y2="845.0" stroke="#000" stroke-width="1.7"/><polygon points="1252.9,838.1 1252.0,847.6 1245.6,844.2" fill="#000"/></svg><div class="t b" style="left:109.62px;top:65.00px;font-size:39.0px;transform:scaleX(0.8765)">SS257-B</div><div class="t b" style="left:259.04px;top:65.00px;font-size:39.0px;transform:scaleX(0.9315)">Installation</div><div class="t b" style="left:462.68px;top:65.00px;font-size:39.0px;transform:scaleX(0.9093)">Instructions</div><div class="t b" style="left:110.06px;top:121.00px;font-size:26.2px;transform:scaleX(0.9382)">Location:</div><div class="t b" style="left:228.11px;top:121.00px;font-size:26.2px;transform:scaleX(0.8905)">Hoses</div><div class="t b" style="left:306.02px;top:121.00px;font-size:26.2px;transform:scaleX(0.9781)">off</div><div class="t b" style="left:347.09px;top:121.00px;font-size:26.2px;transform:scaleX(0.9116)">Fuel</div><div class="t b" style="left:403.60px;top:121.00px;font-size:26.2px;transform:scaleX(0.9293)">Tank</div><div class="t b" style="left:466.60px;top:121.00px;font-size:26.2px;transform:scaleX(0.9526)">and</div><div class="t b" style="left:518.67px;top:121.00px;font-size:26.2px;transform:scaleX(0.9310)">Fuel</div><div class="t b" style="left:576.05px;top:121.00px;font-size:26.2px;transform:scaleX(0.9549)">Filter</div><div class="t b" style="left:645.00px;top:121.00px;font-size:26.2px;transform:scaleX(1.0371)">to</div><div class="t b" style="left:677.05px;top:121.00px;font-size:26.2px;transform:scaleX(0.9548)">Connection</div><div class="t b" style="left:822.62px;top:121.00px;font-size:26.2px;transform:scaleX(1.0197)">with</div><div class="t b" style="left:884.07px;top:121.00px;font-size:26.2px;transform:scaleX(0.9278)">Front</div><div class="t b" style="left:954.87px;top:121.00px;font-size:26.2px;transform:scaleX(0.9349)">Fuel</div><div class="t b" style="left:1012.11px;top:121.00px;font-size:26.2px;transform:scaleX(0.8888)">Lines</div><div class="t b" style="left:110.40px;top:192.00px;font-size:26.2px;transform:scaleX(0.9960)">When</div><div class="t b" style="left:189.43px;top:192.00px;font-size:26.2px;transform:scaleX(0.9718)">removing</div><div class="t b" style="left:311.00px;top:192.00px;font-size:26.2px;transform:scaleX(0.9970)">the</div><div class="t b" style="left:357.05px;top:192.00px;font-size:26.2px;transform:scaleX(0.9535)">original</div><div class="t b" style="left:455.60px;top:192.00px;font-size:26.2px;transform:scaleX(0.9894)">fuel</div><div class="t b" style="left:509.48px;top:192.00px;font-size:26.2px;transform:scaleX(0.9215)">lines,</div><div class="t b" style="left:579.04px;top:192.00px;font-size:26.2px;transform:scaleX(0.9636)">match</div><div class="t b" style="left:661.00px;top:192.00px;font-size:26.2px;transform:scaleX(1.0215)">them</div><div class="t b" style="left:731.60px;top:192.00px;font-size:26.2px;transform:scaleX(1.0286)">to</div><div class="t b" style="left:764.00px;top:192.00px;font-size:26.2px;transform:scaleX(0.9918)">the</div><div class="t b" style="left:812.00px;top:192.00px;font-size:26.2px;transform:scaleX(0.9537)">applicable</div><div class="t b" style="left:942.63px;top:192.00px;font-size:26.2px;transform:scaleX(0.9729)">replacement</div><div class="t b" style="left:1101.45px;top:192.00px;font-size:26.2px;transform:scaleX(0.9463)">lines.</div><div class="t" style="left:126.50px;top:246.00px;font-size:21.3px;transform:scaleX(0.9978)">Attach</div><div class="t" style="left:192.80px;top:246.00px;font-size:21.3px;transform:scaleX(0.9787)">this</div><div class="t" style="left:231.60px;top:246.00px;font-size:21.3px;transform:scaleX(0.9513)">end</div><div class="t" style="left:271.90px;top:246.00px;font-size:21.3px;transform:scaleX(1.0758)">to</div><div class="t" style="left:126.48px;top:274.00px;font-size:21.3px;transform:scaleX(0.9191)">Hose</div><div class="t" style="left:176.81px;top:274.00px;font-size:21.3px;transform:scaleX(0.9925)">Connection</div><div class="t" style="left:126.90px;top:302.00px;font-size:21.3px;transform:scaleX(1.0566)">off</div><div class="t" style="left:156.88px;top:302.00px;font-size:21.3px;transform:scaleX(0.9245)">Fuel</div><div class="t" style="left:200.20px;top:302.00px;font-size:21.3px;transform:scaleX(0.9904)">Tank</div><div class="t" style="left:1130.60px;top:249.00px;font-size:21.3px;transform:scaleX(0.9978)">Attach</div><div class="t" style="left:1196.90px;top:249.00px;font-size:21.3px;transform:scaleX(0.9787)">this</div><div class="t" style="left:1235.70px;top:249.00px;font-size:21.3px;transform:scaleX(0.9513)">end</div><div class="t" style="left:1276.00px;top:249.00px;font-size:21.3px;transform:scaleX(1.0758)">to</div><div class="t" style="left:1300.57px;top:249.00px;font-size:21.3px;transform:scaleX(0.9254)">Hose</div><div class="t" style="left:1129.91px;top:276.00px;font-size:21.3px;transform:scaleX(0.9877)">Connection</div><div class="t" style="left:1242.00px;top:276.00px;font-size:21.3px;transform:scaleX(0.9583)">at</div><div class="t" style="left:1265.71px;top:276.00px;font-size:21.3px;transform:scaleX(0.9941)">Front</div><div class="t" style="left:1321.78px;top:276.00px;font-size:21.3px;transform:scaleX(0.9245)">Fuel</div><div class="t" style="left:1130.89px;top:305.00px;font-size:21.3px;transform:scaleX(0.9053)">Lines</div><div class="t" style="left:213.30px;top:504.00px;font-size:21.3px;transform:scaleX(0.9978)">Attach</div><div class="t" style="left:279.60px;top:504.00px;font-size:21.3px;transform:scaleX(0.9787)">this</div><div class="t" style="left:318.40px;top:504.00px;font-size:21.3px;transform:scaleX(0.9513)">end</div><div class="t" style="left:358.70px;top:504.00px;font-size:21.3px;transform:scaleX(1.0758)">to</div><div class="t" style="left:213.28px;top:532.00px;font-size:21.3px;transform:scaleX(0.9191)">Hose</div><div class="t" style="left:263.61px;top:532.00px;font-size:21.3px;transform:scaleX(0.9925)">Connection</div><div class="t" style="left:213.70px;top:560.00px;font-size:21.3px;transform:scaleX(1.0566)">off</div><div class="t" style="left:243.68px;top:560.00px;font-size:21.3px;transform:scaleX(0.9245)">Fuel</div><div class="t" style="left:287.00px;top:560.00px;font-size:21.3px;transform:scaleX(0.9904)">Tank</div><div class="t" style="left:1158.70px;top:563.00px;font-size:21.3px;transform:scaleX(0.9978)">Attach</div><div class="t" style="left:1225.00px;top:563.00px;font-size:21.3px;transform:scaleX(0.9787)">this</div><div class="t" style="left:1263.80px;top:563.00px;font-size:21.3px;transform:scaleX(0.9513)">end</div><div class="t" style="left:1304.10px;top:563.00px;font-size:21.3px;transform:scaleX(1.0758)">to</div><div class="t" style="left:1158.68px;top:591.00px;font-size:21.3px;transform:scaleX(0.9191)">Hose</div><div class="t" style="left:1209.01px;top:591.00px;font-size:21.3px;transform:scaleX(0.9925)">Connection</div><div class="t" style="left:1321.60px;top:591.00px;font-size:21.3px;transform:scaleX(0.9695)">at</div><div class="t" style="left:1158.51px;top:619.00px;font-size:21.3px;transform:scaleX(0.9941)">Front</div><div class="t" style="left:1214.68px;top:619.00px;font-size:21.3px;transform:scaleX(0.9220)">Fuel</div><div class="t" style="left:1258.39px;top:619.00px;font-size:21.3px;transform:scaleX(0.9094)">Lines</div><div class="t" style="left:170.60px;top:904.00px;font-size:21.3px;transform:scaleX(0.9978)">Attach</div><div class="t" style="left:236.90px;top:904.00px;font-size:21.3px;transform:scaleX(0.9787)">this</div><div class="t" style="left:275.70px;top:904.00px;font-size:21.3px;transform:scaleX(0.9513)">end</div><div class="t" style="left:170.90px;top:932.00px;font-size:21.3px;transform:scaleX(1.0699)">to</div><div class="t" style="left:195.68px;top:932.00px;font-size:21.3px;transform:scaleX(0.9195)">Fuel</div><div class="t" style="left:239.60px;top:932.00px;font-size:21.3px;transform:scaleX(0.9971)">Filter</div><div class="t" style="left:999.80px;top:880.00px;font-size:21.3px;transform:scaleX(0.9978)">Attach</div><div class="t" style="left:1066.10px;top:880.00px;font-size:21.3px;transform:scaleX(0.9787)">this</div><div class="t" style="left:1104.90px;top:880.00px;font-size:21.3px;transform:scaleX(0.9513)">end</div><div class="t" style="left:1145.20px;top:880.00px;font-size:21.3px;transform:scaleX(1.0758)">to</div><div class="t" style="left:1169.77px;top:880.00px;font-size:21.3px;transform:scaleX(0.9254)">Hose</div><div class="t" style="left:999.11px;top:908.00px;font-size:21.3px;transform:scaleX(0.9877)">Connection</div><div class="t" style="left:1111.20px;top:908.00px;font-size:21.3px;transform:scaleX(0.9583)">at</div><div class="t" style="left:1134.91px;top:908.00px;font-size:21.3px;transform:scaleX(0.9941)">Front</div><div class="t" style="left:1190.98px;top:908.00px;font-size:21.3px;transform:scaleX(0.9245)">Fuel</div><div class="t" style="left:1000.09px;top:936.00px;font-size:21.3px;transform:scaleX(0.9053)">Lines</div><div class="t" style="left:822.60px;top:502.00px;font-size:21.3px;transform:scaleX(0.8996)">VL257B313-SS</div><div class="t" style="left:962.30px;top:502.00px;font-size:21.3px;transform:scaleX(0.9990)">5/16”</div><div class="t" style="left:1020.40px;top:502.00px;font-size:21.3px;transform:scaleX(0.9953)">Vapor</div><div class="t" style="left:1081.59px;top:502.00px;font-size:21.3px;transform:scaleX(0.9084)">Line</div><div class="t" style="left:813.51px;top:736.00px;font-size:21.3px;transform:scaleX(0.8856)">RL257B313-SS</div><div class="t" style="left:952.40px;top:736.00px;font-size:21.3px;transform:scaleX(1.0320)">5/16”</div><div class="t" style="left:1010.02px;top:736.00px;font-size:21.3px;transform:scaleX(0.9826)">Return</div><div class="t" style="left:1079.07px;top:736.00px;font-size:21.3px;transform:scaleX(0.9266)">Line</div><div class="t" style="left:586.60px;top:1050.00px;font-size:21.3px;transform:scaleX(0.8785)">SL257B375-SS</div><div class="t" style="left:723.00px;top:1050.00px;font-size:21.3px;transform:scaleX(1.0654)">3/8”</div><div class="t" style="left:770.00px;top:1050.00px;font-size:21.3px;transform:scaleX(0.9165)">Supply</div><div class="t" style="left:837.07px;top:1050.00px;font-size:21.3px;transform:scaleX(0.9266)">Line</div><div class="t b" style="left:156.69px;top:1139.00px;font-size:22.6px;transform:scaleX(0.9137)">Please</div><div class="t b" style="left:229.01px;top:1139.00px;font-size:22.6px;transform:scaleX(0.9886)">note</div><div class="t b" style="left:283.60px;top:1139.00px;font-size:22.6px;transform:scaleX(0.9883)">that</div><div class="t b" style="left:333.00px;top:1139.00px;font-size:22.6px;transform:scaleX(0.9782)">the</div><div class="t b" style="left:373.52px;top:1139.00px;font-size:22.6px;transform:scaleX(0.8845)">Hoses</div><div class="t b" style="left:441.00px;top:1139.00px;font-size:22.6px;transform:scaleX(0.9145)">and</div><div class="t b" style="left:485.14px;top:1139.00px;font-size:22.6px;transform:scaleX(0.8634)">Lines</div><div class="t b" style="left:543.60px;top:1139.00px;font-size:22.6px;transform:scaleX(0.9593)">are</div><div class="t b" style="left:583.60px;top:1139.00px;font-size:22.6px;transform:scaleX(0.9743)">detailed</div><div class="t b" style="left:674.60px;top:1139.00px;font-size:22.6px;transform:scaleX(1.0005)">with</div><div class="t b" style="left:727.00px;top:1139.00px;font-size:22.6px;transform:scaleX(0.9507)">directional</div><div class="t b" style="left:842.04px;top:1139.00px;font-size:22.6px;transform:scaleX(0.9556)">labeling.</div><div class="t b" style="left:156.63px;top:1169.00px;font-size:22.6px;transform:scaleX(0.8600)">For</div><div class="t b" style="left:196.06px;top:1169.00px;font-size:22.6px;transform:scaleX(0.9394)">Example:</div><div class="t b" style="left:297.60px;top:1169.00px;font-size:22.6px;transform:scaleX(0.9411)">Attach</div><div class="t b" style="left:371.00px;top:1169.00px;font-size:22.6px;transform:scaleX(0.9782)">the</div><div class="t b" style="left:411.49px;top:1169.00px;font-size:22.6px;transform:scaleX(0.9053)">Hose</div><div class="t b" style="left:469.03px;top:1169.00px;font-size:22.6px;transform:scaleX(0.9730)">labeled</div><div class="t b" style="left:552.99px;top:1169.00px;font-size:22.6px;transform:scaleX(0.9917)">with</div><div class="t b" style="left:604.11px;top:1169.00px;font-size:22.6px;transform:scaleX(0.8600)">a</div><div class="t b" style="left:621.49px;top:1169.00px;font-size:22.6px;transform:scaleX(0.9122)">“Red</div><div class="t b" style="left:678.00px;top:1169.00px;font-size:22.6px;transform:scaleX(0.9991)">Dot”</div><div class="t b" style="left:733.60px;top:1169.00px;font-size:22.6px;transform:scaleX(0.9842)">to</div><div class="t b" style="left:761.00px;top:1169.00px;font-size:22.6px;transform:scaleX(0.9782)">the</div><div class="t b" style="left:801.12px;top:1169.00px;font-size:22.6px;transform:scaleX(0.8824)">Line</div><div class="t b" style="left:849.03px;top:1169.00px;font-size:22.6px;transform:scaleX(0.9678)">labeled</div><div class="t b" style="left:932.60px;top:1169.00px;font-size:22.6px;transform:scaleX(1.0005)">with</div><div class="t b" style="left:984.11px;top:1169.00px;font-size:22.6px;transform:scaleX(0.8600)">a</div><div class="t b" style="left:1001.48px;top:1169.00px;font-size:22.6px;transform:scaleX(0.9199)">“Red</div><div class="t b" style="left:1058.59px;top:1169.00px;font-size:22.6px;transform:scaleX(1.0087)">Dot”.</div></body></html>
